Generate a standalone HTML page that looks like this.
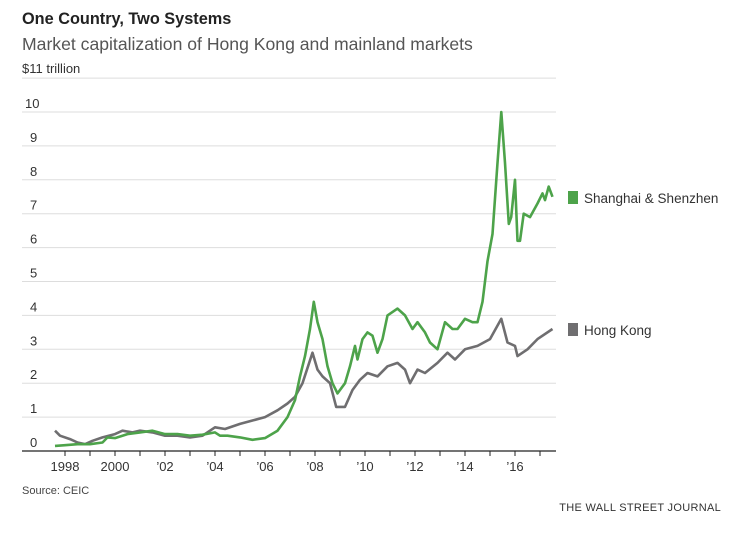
<!DOCTYPE html>
<html><head><meta charset="utf-8">
<style>
body{margin:0;background:#fff;width:747px;height:535px;overflow:hidden;font-family:"Liberation Sans",sans-serif;}
svg{position:absolute;left:0;top:0}
</style></head>
<body>
<svg width="747" height="535">
<text x="22" y="24" font-size="16.3" font-weight="bold" fill="#222">One Country, Two Systems</text>
<text x="22" y="50" font-size="17.6" fill="#555">Market capitalization of Hong Kong and mainland markets</text>
<g id="grid"></g>
<g id="series"></g>
<g id="xaxis"></g>
<rect x="568" y="191" width="10" height="13" fill="#4da34a"/>
<text x="584" y="203" font-size="13.5" fill="#333">Shanghai &amp; Shenzhen</text>
<rect x="568" y="323" width="10" height="13" fill="#6f6e70"/>
<text x="584" y="335" font-size="13.5" fill="#333">Hong Kong</text>
<text x="22" y="494" font-size="11" fill="#444">Source: CEIC</text>
<text x="721" y="511" font-size="11" fill="#333" text-anchor="end" letter-spacing="0.3">THE WALL STREET JOURNAL</text>
</svg>
<script>
const yTicks=[0,1,2,3,4,5,6,7,8,9,10,11];
const xYears=[1998,1999,2000,2001,2002,2003,2004,2005,2006,2007,2008,2009,2010,2011,2012,2013,2014,2015,2016,2017];
const xLabels={1998:"1998",2000:"2000",2002:"\u201902",2004:"\u201904",2006:"\u201906",2008:"\u201908",2010:"\u201910",2012:"\u201912",2014:"\u201914",2016:"\u201916"};
const shT=[1997.6,1998,1998.5,1999,1999.5,1999.7,2000,2000.5,2001,2001.5,2002,2002.5,2003,2003.5,2004,2004.2,2004.5,2005,2005.5,2006,2006.5,2006.9,2007.2,2007.4,2007.6,2007.8,2007.95,2008.1,2008.3,2008.5,2008.7,2008.9,2009.2,2009.4,2009.6,2009.7,2009.9,2010.1,2010.3,2010.5,2010.7,2010.9,2011.3,2011.6,2011.9,2012.1,2012.4,2012.6,2012.9,2013.2,2013.5,2013.7,2014,2014.3,2014.5,2014.7,2014.9,2015.1,2015.3,2015.45,2015.6,2015.75,2015.85,2016,2016.1,2016.2,2016.35,2016.6,2016.9,2017.1,2017.2,2017.35,2017.5];
const shV=[0.15,0.17,0.2,0.2,0.25,0.4,0.38,0.5,0.55,0.6,0.5,0.5,0.45,0.48,0.55,0.45,0.45,0.4,0.33,0.38,0.6,1.0,1.5,2.2,2.8,3.6,4.4,3.8,3.3,2.5,2.0,1.7,2.0,2.5,3.1,2.7,3.3,3.5,3.4,2.9,3.3,4.0,4.2,4.0,3.6,3.8,3.5,3.2,3.0,3.8,3.6,3.6,3.9,3.8,3.8,4.4,5.6,6.4,8.5,10.0,8.5,6.7,6.9,8.0,6.2,6.2,7.0,6.9,7.3,7.6,7.4,7.8,7.5];
const hkT=[1997.6,1997.8,1998.2,1998.5,1998.8,1999.1,1999.5,2000,2000.3,2000.7,2001,2001.5,2002,2002.5,2003,2003.5,2004,2004.4,2005,2005.5,2006,2006.5,2006.9,2007.2,2007.5,2007.9,2008.1,2008.3,2008.6,2008.85,2009.2,2009.5,2009.8,2010.1,2010.5,2010.9,2011.3,2011.6,2011.8,2012.1,2012.4,2012.9,2013.3,2013.6,2014,2014.5,2015,2015.45,2015.7,2016,2016.1,2016.5,2016.9,2017.5];
const hkV=[0.6,0.45,0.35,0.25,0.2,0.3,0.4,0.5,0.6,0.55,0.6,0.55,0.45,0.45,0.4,0.45,0.7,0.65,0.8,0.9,1.0,1.2,1.4,1.6,2.0,2.9,2.4,2.2,2.0,1.3,1.3,1.8,2.1,2.3,2.2,2.5,2.6,2.4,2.0,2.4,2.3,2.6,2.9,2.7,3.0,3.1,3.3,3.9,3.2,3.1,2.8,3.0,3.3,3.6];
const NS="http://www.w3.org/2000/svg";
const xS=t=>65+(t-1998)*25;
const yS=v=>451-v*33.9;
function mk(tag,attrs,parent){const e=document.createElementNS(NS,tag);for(const k in attrs)e.setAttribute(k,attrs[k]);parent.appendChild(e);return e;}
const grid=document.getElementById('grid');
yTicks.forEach(v=>{
  if(v>0){const l=mk('line',{x1:22,x2:556,y1:yS(v),y2:yS(v),stroke:'#ddd','stroke-width':1},grid);
  
  }
  if(v<11){const t=mk('text',{x:v==10?25:30,y:yS(v)-4,'font-size':13,fill:'#333'},grid);t.textContent=v;
  
  }
});
const t11=mk('text',{x:22,y:yS(11)-5,'font-size':13,fill:'#333'},grid);t11.textContent='$11 trillion';


const xa=document.getElementById('xaxis');
const ax=mk('line',{x1:22,x2:556,y1:451,y2:451,stroke:'#222','stroke-width':1.3},xa);


xYears.forEach(y=>{
  const tk=mk('line',{x1:xS(y),x2:xS(y),y1:451,y2:456,stroke:'#222'},xa);
  
  
  if(xLabels[y]){const t=mk('text',{x:xS(y),y:471,'font-size':13,fill:'#333','text-anchor':'middle'},xa);t.textContent=xLabels[y];
  
  }
});
const ser=document.getElementById('series');
function line(T,V,color,name){
  const d=T.map((t,i)=>(i?'L':'M')+xS(t).toFixed(1)+','+yS(V[i]).toFixed(1)).join('');
  const p=mk('path',{d:d,fill:'none',stroke:color,'stroke-width':2.6,'stroke-linejoin':'round'},ser);
  
  
}
line(hkT,hkV,'#6f6e70','hongkong-line');
line(shT,shV,'#4da34a','shanghai-shenzhen-line');
</script>
</body></html>
